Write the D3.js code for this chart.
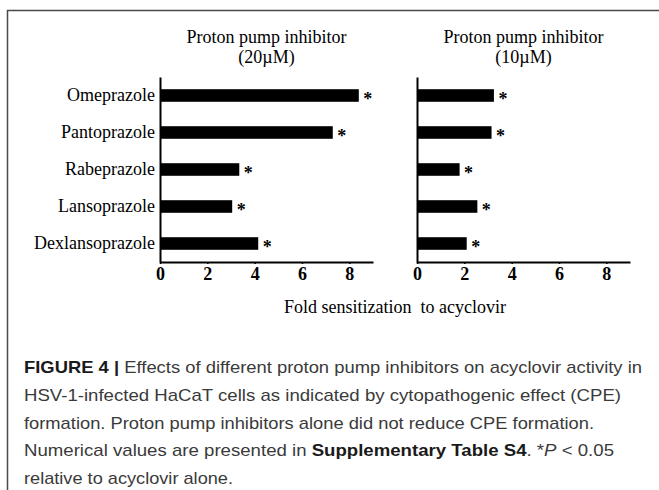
<!DOCTYPE html>
<html>
<head>
<meta charset="utf-8">
<script src="https://cdn.jsdelivr.net/npm/d3@7"></script>
<style>
  body { margin: 0; background: #fff; }
  svg { display: block; }
</style>
</head>
<body>
<div id="chart"></div>
<script>
    // drugs, top to bottom
    const drugs = ["Omeprazole", "Pantoprazole", "Rabeprazole", "Lansoprazole", "Dexlansoprazole"];
    // fold sensitization
    const fold20 = [8.4, 7.3, 3.35, 3.05, 4.15];
    const fold10 = [3.25, 3.15, 1.8, 2.55, 2.1];
    const sig20 = [true, true, true, true, true];
    const sig10 = [true, true, true, true, true];
    const xTicks = [0, 2, 4, 6, 8];
    const panelTitles = [["Proton pump inhibitor", "(20\u00b5M)"], ["Proton pump inhibitor", "(10\u00b5M)"]];
    const xLabel = "Fold sensitization  to acyclovir";

    const W = 659, H = 490;
    const serif = "'Liberation Serif', 'Times New Roman', serif";

    const svg = d3.select("#chart").append("svg")
        .attr("width", W)
        .attr("height", H);

    // frame (top + left edges)
    svg.append("path")
        .attr("d", `M7.5,${H} V10.5 H${W}`)
        .attr("fill", "none")
        .attr("stroke", "#4a4a4a")
        .attr("stroke-width", 1.5);

    const y = d3.scaleBand()
        .domain(drugs)
        .range([77, 262])
        .paddingInner(0.66)
        .paddingOuter(0.33);

    function panel(values, sig, x0, titleLines, showLabels) {
        const x = d3.scaleLinear()
            .domain([0, 9])
            .range([x0, x0 + 213]);

        const g = svg.append("g");

        g.selectAll(".bar")
            .data(values)
            .enter()
            .append("rect")
                .attr("x", x(0))
                .attr("y", (d, i) => y(drugs[i]))
                .attr("width", d => x(d) - x(0))
                .attr("height", y.bandwidth())
                .attr("fill", "#000");

        // significance marks
        g.selectAll(".star")
            .data(values.map((v, i) => ({ v, i })).filter(d => sig[d.i]))
            .enter()
            .append("text")
                .attr("x", d => x(d.v) + 9)
                .attr("y", d => y(drugs[d.i]) + y.bandwidth() / 2 + 9)
                .attr("text-anchor", "middle")
                .style("font-family", serif)
                .style("font-weight", "bold")
                .style("font-size", "18px")
                .text("*");

        // x axis
        g.append("g")
            .attr("transform", `translate(0,262)`)
            .call(d3.axisBottom(x).tickValues(xTicks).tickSize(2).tickPadding(3).tickSizeOuter(0))
            .call(a => a.select(".domain").attr("stroke-width", 2))
            .call(a => a.selectAll(".tick line").attr("stroke-width", 1.5))
            .call(a => a.selectAll("text")
                .attr("font-family", serif)
                .attr("font-weight", "bold")
                .attr("font-size", 18)
                .attr("fill", "#000"));

        // y axis
        const ya = g.append("g")
            .attr("transform", `translate(${x0},0)`)
            .call(d3.axisLeft(y).tickSize(0).tickPadding(5).tickSizeOuter(0))
            .call(a => a.select(".domain").attr("stroke-width", 2));
        ya.selectAll("text")
            .style("font-family", serif)
            .style("font-size", "18px")
            .attr("fill", "#000");
        if (!showLabels) ya.selectAll("text").remove();

        // panel title
        const cx = (x.range()[0] + x.range()[1]) / 2;
        g.selectAll(".title")
            .data(titleLines)
            .enter()
            .append("text")
                .attr("x", cx)
                .attr("y", (d, i) => 43 + i * 20)
                .attr("text-anchor", "middle")
                .style("font-family", serif)
                .style("font-size", "18px")
                .text(d => d);
    }

    panel(fold20, sig20, 160, panelTitles[0], true);
    panel(fold10, sig10, 417, panelTitles[1], false);

    svg.append("text")
        .attr("x", 395)
        .attr("y", 313)
        .attr("text-anchor", "middle")
        .style("font-family", serif)
        .style("font-size", "18px")
        .style("white-space", "pre")
        .text(xLabel);

    // caption
    const caption = [
        [["FIGURE 4 | ", "b"], ["Effects of different proton pump inhibitors on acyclovir activity in", ""]],
        [["HSV-1-infected HaCaT cells as indicated by cytopathogenic effect (CPE)", ""]],
        [["formation. Proton pump inhibitors alone did not reduce CPE formation.", ""]],
        [["Numerical values are presented in ", ""], ["Supplementary Table S4", "b"], [". *", ""], ["P", "i"], [" < 0.05", ""]],
        [["relative to acyclovir alone.", ""]]
    ];
    const captionEnds = [642, 621, 594, 614, 233];

    const cap = svg.append("g")
        .style("font-family", "'Liberation Sans', Arial, sans-serif")
        .style("font-size", "17px")
        .attr("fill", "#3a3a3a");

    caption.forEach((line, i) => {
        const t = cap.append("text")
            .attr("x", 24)
            .attr("y", 373 + i * 27.75);
        line.forEach(([s, f]) => {
            t.append("tspan")
                .style("font-weight", f === "b" ? "bold" : "normal")
                .style("font-style", f === "i" ? "italic" : "normal")
                .attr("fill", f === "b" ? "#1a1a1a" : null)
                .text(s);
        });
        t.attr("textLength", captionEnds[i] - 24)
            .attr("lengthAdjust", "spacingAndGlyphs");
    });
</script>
</body>
</html>
